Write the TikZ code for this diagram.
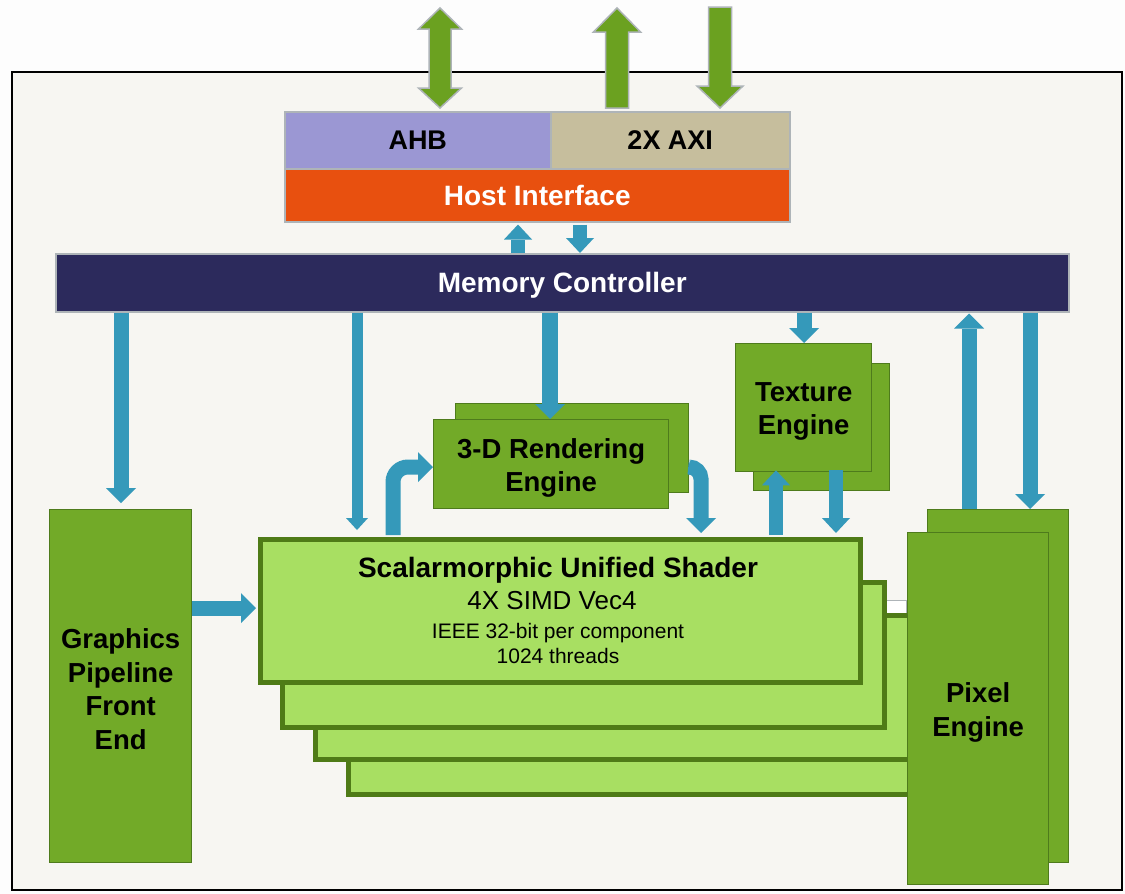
\documentclass[tikz,border=0pt]{standalone}
\usepackage{fontspec}
\setmainfont{Liberation Sans}
\usetikzlibrary{arrows.meta}

\definecolor{pagebg}{HTML}{FDFDFD}
\definecolor{framebg}{HTML}{F7F6F2}
\definecolor{ahbc}{HTML}{9B97D3}
\definecolor{axic}{HTML}{C6BE9D}
\definecolor{hostc}{HTML}{E8500F}
\definecolor{memc}{HTML}{2C2A5C}
\definecolor{edgegray}{HTML}{AEB4B8}
\definecolor{flowblue}{HTML}{3599BA}
\definecolor{engfill}{HTML}{72AA28}
\definecolor{engedge}{HTML}{4E7B1C}
\definecolor{shfill}{HTML}{A8DF62}
\definecolor{shedge}{HTML}{4F7B17}
\definecolor{busgreen}{HTML}{6BA120}

\begin{document}
\begin{tikzpicture}[x=1pt,y=-1pt,
  blk/.style={rectangle, inner sep=0pt, anchor=north west},
  busblk/.style={blk, draw=edgegray, line width=1.5pt},
  engine/.style={blk, fill=engfill, draw=engedge, line width=1.3pt},
  englbl/.style={align=center, text=black, inner sep=0pt,
    font=\bfseries\fontsize{27.5}{33.5}\selectfont},
  shader/.style={blk, fill=shfill, draw=shedge, line width=4.5pt},
  bus/.style={fill=busgreen, draw=edgegray, line width=1.5pt},
  flow/.style={draw=flowblue, line width=15pt,
    -{Triangle[width=30pt,length=15pt,line width=0pt]}},
  thinflow/.style={draw=flowblue, line width=11pt,
    -{Triangle[width=22pt,length=12pt,line width=0pt]}},
  hostflow/.style={draw=flowblue, line width=14pt,
    -{Triangle[width=28pt,length=15pt,line width=0pt]}},
  lbl/.style={anchor=base, text=black, inner sep=0pt}]

\useasboundingbox (0,0) rectangle (1125,894);
\fill[pagebg] (0,0) rectangle (1125,894);

% outer frame
\draw[fill=framebg, line width=2pt, draw=black] (12,72) rectangle (1122,890);

% external bus arrows (AHB and the two AXI channels)
\draw[bus] (440,8) -- (461.5,29) -- (451,29) -- (451,88) -- (461.5,88) -- (440,108)
  -- (418.5,88) -- (429,88) -- (429,29) -- (418.5,29) -- cycle;
\draw[bus] (617,8) -- (640.5,32) -- (628.5,32) -- (628.5,108) -- (605.5,108)
  -- (605.5,32) -- (593.5,32) -- cycle;
\draw[bus] (708.5,7) -- (731.5,7) -- (731.5,86) -- (743,86) -- (720,108)
  -- (697,86) -- (708.5,86) -- cycle;

% host interface block
\node[busblk, fill=ahbc, minimum width=266, minimum height=57,
  font=\bfseries\fontsize{27}{27}\selectfont] (ahb) at (284,111) {AHB};
\node[busblk, fill=axic, minimum width=239, minimum height=57,
  font=\bfseries\fontsize{27}{27}\selectfont] (axi) at (550,111) {2X AXI};
\node[busblk, fill=hostc, minimum width=505, minimum height=53, text=white,
  font=\bfseries\fontsize{28}{28}\selectfont] (hif) at (284,168) {Host Interface};

% memory controller
\node[busblk, fill=memc, minimum width=1013, minimum height=58] (mc) at (55,253) {};
\node[text=white, inner sep=0pt, font=\bfseries\fontsize{28}{28}\selectfont]
  (mcT) at ([yshift=-3pt]mc.center) {Memory Controller};

% shader array (stacked copies)
\node[blk, fill=white, draw=edgegray, line width=1pt,
  minimum width=586, minimum height=100] (shE) at (320,600) {};
\node[shader, minimum width=564, minimum height=142] (sh4) at (346,650) {};
\node[shader, minimum width=597, minimum height=144] (sh3) at (313,613) {};
\node[shader, minimum width=602, minimum height=145] (sh2) at (280,580) {};
\node[shader, minimum width=600, minimum height=143] (sh1) at (258,537) {};
\node[lbl, font=\bfseries\fontsize{28}{28}\selectfont] (shT) at (558,577)
  {Scalarmorphic Unified Shader};
\node[lbl, font=\fontsize{26}{26}\selectfont] (shS) at (552,609) {4X SIMD Vec4};
\node[lbl, font=\fontsize{21}{21}\selectfont] (shI) at (558,638)
  {IEEE 32-bit per component};
\node[lbl, font=\fontsize{21}{21}\selectfont] (shN) at (558,663) {1024 threads};

% engines
\node[engine, minimum width=142, minimum height=353] (gp) at (49,509) {};
\node[englbl] (gpT) at ([yshift=-3pt]gp.center) {Graphics\\Pipeline\\Front\\End};
\node[engine, minimum width=233, minimum height=89] (r3dB) at (455,403) {};
\node[engine, minimum width=235, minimum height=89] (r3d) at (433,419) {};
\node[englbl] (r3dT) at ([yshift=-4pt]r3d.center) {3-D Rendering\\Engine};
\node[engine, minimum width=136, minimum height=127] (texB) at (753,363) {};
\node[engine, minimum width=136, minimum height=128] (tex) at (735,343) {};
\node[englbl] (texT) at ([yshift=-4pt]tex.center) {Texture\\Engine};
\node[engine, minimum width=141, minimum height=353] (pixB) at (927,509) {};
\node[engine, minimum width=141, minimum height=352] (pix) at (907,532) {};
\node[englbl] (pixT) at ([yshift=-4pt]pix.center) {Pixel\\Engine};

% lanes for the data paths
\coordinate (lGP) at (121,0);
\coordinate (lSH) at (357,0);
\coordinate (l3D) at (550,0);
\coordinate (lTX) at (804,0);
\coordinate (lPU) at (969,0);
\coordinate (lPD) at (1030,0);
\coordinate (lTU) at (776,0);
\coordinate (lTD) at (836,0);
\coordinate (lHU) at (518,0);
\coordinate (lHD) at (580,0);
\coordinate (lFE) at (0,608);
\coordinate (lFB) at (393,467);
\coordinate (lBK) at (701,467);

% host <-> memory controller
\draw[hostflow, shorten >=2pt] (mc.north -| lHU) -- (hif.south -| lHU);
\draw[hostflow, shorten <=2pt] (hif.south -| lHD) -- (mc.north -| lHD);

% memory controller <-> engines
\draw[flow, shorten >=6pt] (mc.south -| lGP) -- (gp.north -| lGP);
\draw[thinflow, shorten >=7pt] (mc.south -| lSH) -- (sh1.north -| lSH);
\draw[flow, line width=16pt] (mc.south -| l3D) -- (r3d.north -| l3D);
\draw[flow] (mc.south -| lTX) -- (tex.north -| lTX);
\draw[flow, shorten >=1pt] (pixB.north -| lPU) -- (mc.south -| lPU);
\draw[flow] (mc.south -| lPD) -- (pixB.north -| lPD);

% texture engine <-> shader
\draw[hostflow, shorten <=2pt, shorten >=-2pt] (sh1.north -| lTU) -- (tex.south -| lTU);
\draw[hostflow, shorten <=-2pt, shorten >=4pt] (tex.south -| lTD) -- (sh1.north -| lTD);

% front end -> shader
\draw[flow, shorten >=2pt] (gp.east |- lFE) -- (sh1.west |- lFE);

% shader <-> 3-D rendering engine
\draw[flow, rounded corners=15pt, shorten <=2pt] (sh1.north -| lFB) |- (r3d.west |- lFB);
\draw[flow, rounded corners=12pt, shorten >=4pt] (r3dB.east |- lBK) -| (sh1.north -| lBK);

\end{tikzpicture}
\end{document}
